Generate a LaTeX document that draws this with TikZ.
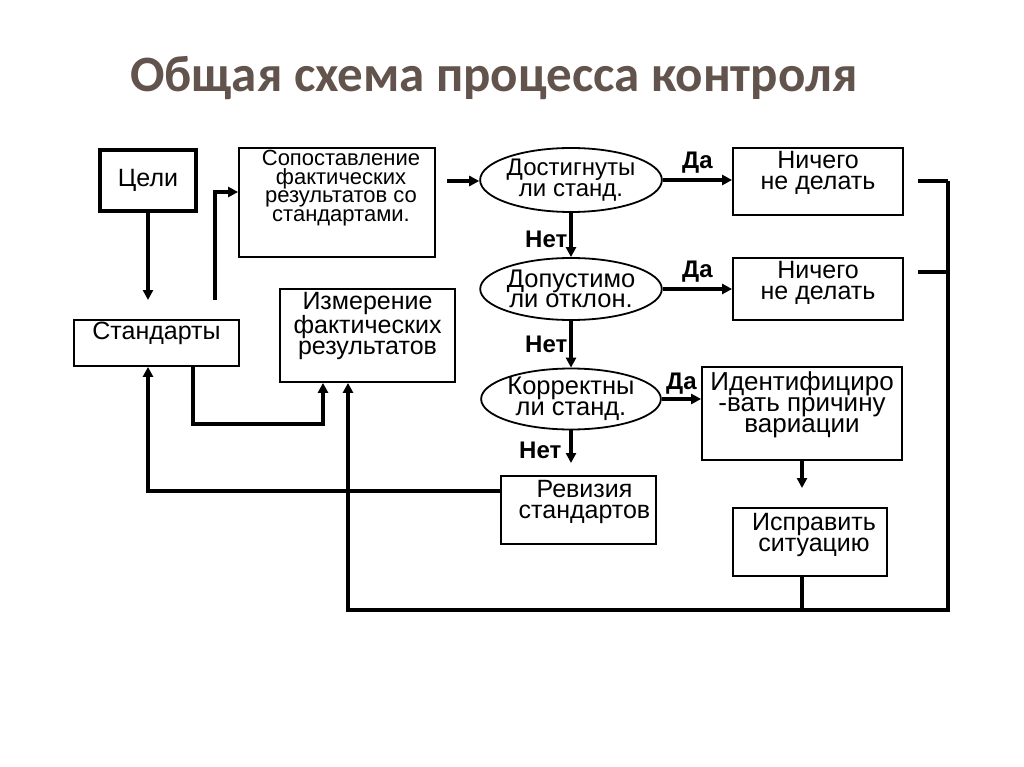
\documentclass[tikz,border=0pt]{standalone}
\usepackage{fontspec}
\setmainfont{Liberation Sans}
\newfontfamily\titlefont{Carlito}
\usetikzlibrary{arrows.meta,shapes.geometric}
\definecolor{ttl}{HTML}{62544C}

\begin{document}
\begin{tikzpicture}[x=1pt, y=-1pt,
			box/.style = {draw, line width=1.8pt, inner sep=0pt},
			oval/.style = {ellipse, draw, line width=1.8pt, minimum width=170, inner sep=0pt,
				align=center, font=\fontsize{24}{20.5}\selectfont},
			txt/.style = {anchor=north, align=center, inner sep=0pt, font=\fontsize{25}{21}\selectfont},
			line/.style = {draw, line width=3.4pt},
			arr/.style = {line, -{Triangle[length=10pt, width=10pt]}},
			yes/.style = {inner sep=2pt, font=\bfseries\fontsize{24}{24}\selectfont},
			]
		\useasboundingbox (0,0) rectangle (1024,767);
		
		\node[text=ttl, font=\titlefont\bfseries\fontsize{51}{51}\selectfont] (title) at (494,78)
			{Общая схема процесса контроля};
		
		% left column
		\node[box, line width=3.2pt, minimum width=96, minimum height=61,
			font=\fontsize{25}{20}\selectfont] (goals) at (148,180.5) {Цели};
		\node[box, minimum width=165, minimum height=46] (standards) at (156.5,343) {};
		\node[txt] (standardst) at ([yshift=-3pt]standards.north) {Стандарты};
		\node[box, minimum width=196, minimum height=109] (compare) at (337,202.5) {};
		\node[txt, font=\fontsize{22}{18.5}\selectfont] (comparet) at ([xshift=4pt, yshift=-3pt]compare.north)
			{Сопоставление\\фактических\\результатов со\\стандартами.};
		\node[box, minimum width=175, minimum height=93] (measure) at (367.5,335.5) {};
		\node[txt] (measuret) at ([yshift=-4pt]measure.north) {Измерение\\фактических\\результатов};
		
		% questions
		\node[oval, minimum height=64] (q1) at (571,180) {Достигнуты\\ли станд.};
		\node[oval, minimum height=62, font=\fontsize{25.5}{20.5}\selectfont] (q2) at (571,289) {Допустимо\\ли отклон.};
		\node[oval, minimum height=60, font=\fontsize{25.5}{20.5}\selectfont] (q3) at (571,399) {Корректны\\ли станд.};
		
		% right column
		\node[box, minimum width=170, minimum height=67] (none1) at (818,181.5) {};
		\node[txt] (none1t) at ([yshift=-4pt]none1.north) {Ничего\\не делать};
		\node[box, minimum width=170, minimum height=62] (none2) at (818,289) {};
		\node[txt] (none2t) at ([yshift=-4pt]none2.north) {Ничего\\не делать};
		\node[box, minimum width=200, minimum height=93] (ident) at (802,413.5) {};
		\node[txt, font=\fontsize{26}{21}\selectfont] (identt) at ([yshift=-5pt]ident.north)
			{Идентифициро\\-вать причину\\вариации};
		\node[box, minimum width=155, minimum height=68] (revise) at (578.5,510) {};
		\node[txt] (reviset) at ([xshift=6pt, yshift=-5pt]revise.north) {Ревизия\\стандартов};
		\node[box, minimum width=154, minimum height=68] (fix) at (810,542) {};
		\node[txt] (fixt) at ([xshift=4pt, yshift=-6pt]fix.north) {Исправить\\ситуацию};
		
		% free ends
		\coordinate (g1) at (148,300);
		\coordinate (s1) at (215,300);
		\coordinate (c1) at (447,181);
		\coordinate (n3) at (571,463);
		\coordinate (i2) at (802,488);
		\coordinate (r1) at (918,181);
		\coordinate (r2) at (918,272);
		\coordinate (rt) at (948,181);
		\coordinate (rb) at (948,610);
		
		\draw[arr] (goals) -- (g1);
		\draw[arr] (s1) |- ([yshift=10.5pt]compare.west);
		\draw[arr] (c1) -- (c1 -| q1.west);
		
		\draw[arr] (q1.east) -- node[yes, above, yshift=3pt] {Да} (q1.east -| none1.west);
		\draw[arr] (q2.east) -- node[yes, above, yshift=3pt] {Да} (q2.east -| none2.west);
		\draw[arr] (q3.east) -- node[yes, above, yshift=1pt] {Да} (q3.east -| ident.west);
		
		\draw[arr] (q1.south) -- node[yes, left, pos=0.6] {Нет} (q2.north);
		\draw[arr] (q2.south) -- node[yes, left, pos=0.5] {Нет} (q3.north);
		\draw[arr] (q3.south) -- node[yes, left, pos=0.6, xshift=-6pt] {Нет} (n3);
		
		\draw[arr] (ident.south) -- (i2);
		\draw[line] (fix.south -| i2) -- (i2 |- rb);
		
		% return loop    % <---
		\draw[line] (r1) -- (rt);
		\draw[line] (r2) -- (r2 -| rt);
		\draw[arr] (rt) -- (rb) -| ([xshift=-19.5pt]measure.south);
		\draw[arr] ([yshift=19pt]revise.west) -| (standards.south -| g1);
		\draw[arr] ([xshift=36.5pt]standards.south) -- ++(0,57) -| ([xshift=-44.5pt]measure.south);
		
\end{tikzpicture}
\end{document}
